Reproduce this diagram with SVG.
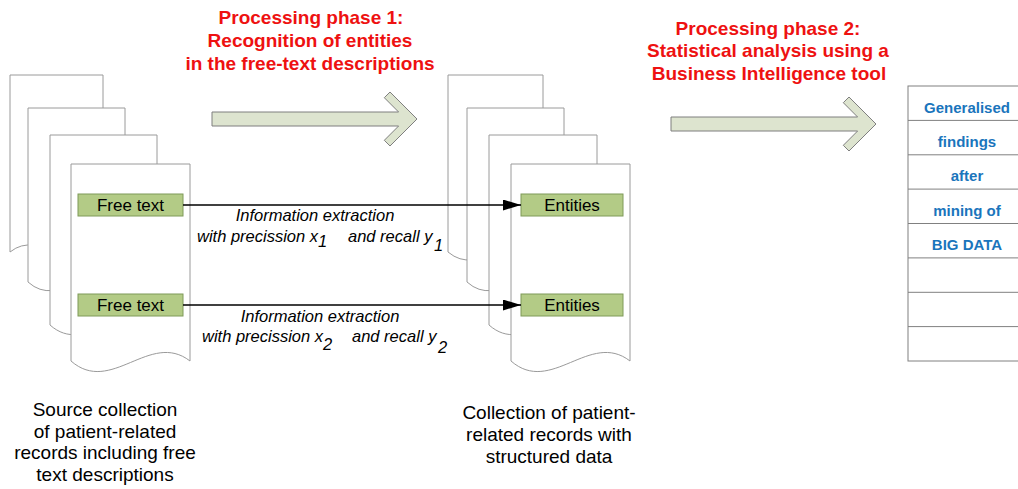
<svg xmlns="http://www.w3.org/2000/svg" width="1018" height="489" viewBox="0 0 1018 489">
<style>
.doc{fill:#ffffff;stroke:#9a9a9a;stroke-width:1}
.box{fill:#b3cb86;stroke:#7f9a58;stroke-width:1}
.lbl{font-family:"Liberation Sans",Arial,sans-serif;font-size:17px;fill:#000;text-anchor:middle}
.ital{font-family:"Liberation Sans",Arial,sans-serif;font-size:16.5px;font-style:italic;fill:#000}
.title{font-family:"Liberation Sans",Arial,sans-serif;font-size:19px;font-weight:bold;fill:#ee1111;text-anchor:middle}
.cap{font-family:"Liberation Sans",Arial,sans-serif;font-size:19px;fill:#000;text-anchor:middle}
.blue{font-family:"Liberation Sans",Arial,sans-serif;font-size:15px;font-weight:bold;fill:#1a75bc;text-anchor:middle}
.barrow{fill:#dde4cf;stroke:#7f7f7f;stroke-width:1}
.conn{stroke:#000;stroke-width:1.3;fill:none}
.tbl{fill:#fff;stroke:#808080;stroke-width:1}
.tline{stroke:#808080;stroke-width:1}
</style>
<defs>
<marker id="ah" viewBox="0 0 18 11" refX="18" refY="5.5" markerWidth="18" markerHeight="11" markerUnits="userSpaceOnUse" orient="auto">
<path d="M0,0 L18,5.5 L0,11 Z" fill="#000"/>
</marker>
</defs>

<g id="source-collection">
<path class="doc" d="M10,75 H103 V252 C72,279 41,227 10,252 Z"/>
<path class="doc" d="M28,108 V282 C60,311 93,256 125,282 V108 Z"/>
<path class="doc" d="M50,135 V325 C86,357 121,297 157,325 V135 Z"/>
<path class="doc" d="M71,164 V361 C111,396 150,330 190,361 V164 Z"/>
</g>
<g id="free-text-1">
<rect class="box" x="78" y="194" width="105" height="22"/>
<text class="lbl" x="130.5" y="211">Free text</text>
</g>
<g id="free-text-2">
<rect class="box" x="78" y="294" width="105" height="22"/>
<text class="lbl" x="130.5" y="311">Free text</text>
</g>

<g id="structured-collection">
<path class="doc" d="M448,75 V252 C480,279 511,227 543,252 V75 Z"/>
<path class="doc" d="M467,108 V282 C499,311 532,256 564,282 V108 Z"/>
<path class="doc" d="M489,135 V325 C525,357 561,297 597,325 V135 Z"/>
<path class="doc" d="M511,164 V361 C551,396 590,330 630,361 V164 Z"/>
</g>
<g id="entities-1">
<rect class="box" x="521" y="194" width="102" height="22"/>
<text class="lbl" x="572" y="211">Entities</text>
</g>
<g id="entities-2">
<rect class="box" x="521" y="294" width="102" height="22"/>
<text class="lbl" x="572" y="311">Entities</text>
</g>

<g id="connectors">
<line class="conn" x1="183" y1="205" x2="521" y2="205" marker-end="url(#ah)"/>
<line class="conn" x1="183" y1="305" x2="521" y2="305" marker-end="url(#ah)"/>
</g>

<g id="label-extraction-1">
<text class="ital" x="315" y="221" text-anchor="middle">Information extraction</text>
<text class="ital"><tspan x="197" y="242">with precission x</tspan><tspan x="318" y="247">1</tspan><tspan x="348" y="242">and recall y</tspan><tspan x="434" y="251">1</tspan></text>
</g>
<g id="label-extraction-2">
<text class="ital" x="320" y="322" text-anchor="middle">Information extraction</text>
<text class="ital"><tspan x="202" y="342">with precission x</tspan><tspan x="323" y="350">2</tspan><tspan x="352" y="342">and recall y</tspan><tspan x="438" y="353">2</tspan></text>
</g>

<g id="phase1">
<text class="title" x="311" y="24">Processing phase 1:</text>
<text class="title" x="310" y="47">Recognition of entities</text>
<text class="title" x="310" y="70">in the free-text descriptions</text>
<path class="barrow" d="M212,112 H398.6 L384.3,97.7 L390,92 L417,119 L390,146 L384.3,140.3 L398.6,126 H212 Z"/>
</g>

<g id="phase2">
<text class="title" x="768" y="35">Processing phase 2:</text>
<text class="title" x="768" y="57">Statistical analysis using a</text>
<text class="title" x="769" y="80">Business Intelligence tool</text>
<path class="barrow" d="M671,117 H857.6 L843.3,102.7 L849,97 L876,124 L849,151 L843.3,145.3 L857.6,131 H671 Z"/>
</g>

<g id="findings-table">
<rect class="tbl" x="908" y="86" width="130" height="275"/>
<line class="tline" x1="908" y1="120.4" x2="1018" y2="120.4"/>
<line class="tline" x1="908" y1="154.8" x2="1018" y2="154.8"/>
<line class="tline" x1="908" y1="189.1" x2="1018" y2="189.1"/>
<line class="tline" x1="908" y1="223.5" x2="1018" y2="223.5"/>
<line class="tline" x1="908" y1="257.9" x2="1018" y2="257.9"/>
<line class="tline" x1="908" y1="292.3" x2="1018" y2="292.3"/>
<line class="tline" x1="908" y1="326.6" x2="1018" y2="326.6"/>
<text class="blue" x="967" y="112.5">Generalised</text>
<text class="blue" x="967" y="146.9">findings</text>
<text class="blue" x="967" y="181.3">after</text>
<text class="blue" x="967" y="215.6">mining of</text>
<text class="blue" x="967" y="250">BIG DATA</text>
</g>

<g id="caption-source">
<text class="cap" x="105" y="416">Source collection</text>
<text class="cap" x="105" y="437.5">of patient-related</text>
<text class="cap" x="105" y="459">records including free</text>
<text class="cap" x="105" y="480.5">text descriptions</text>
</g>
<g id="caption-structured">
<text class="cap" x="549" y="419">Collection of patient-</text>
<text class="cap" x="549" y="441">related records with</text>
<text class="cap" x="549" y="463">structured data</text>
</g>
</svg>
